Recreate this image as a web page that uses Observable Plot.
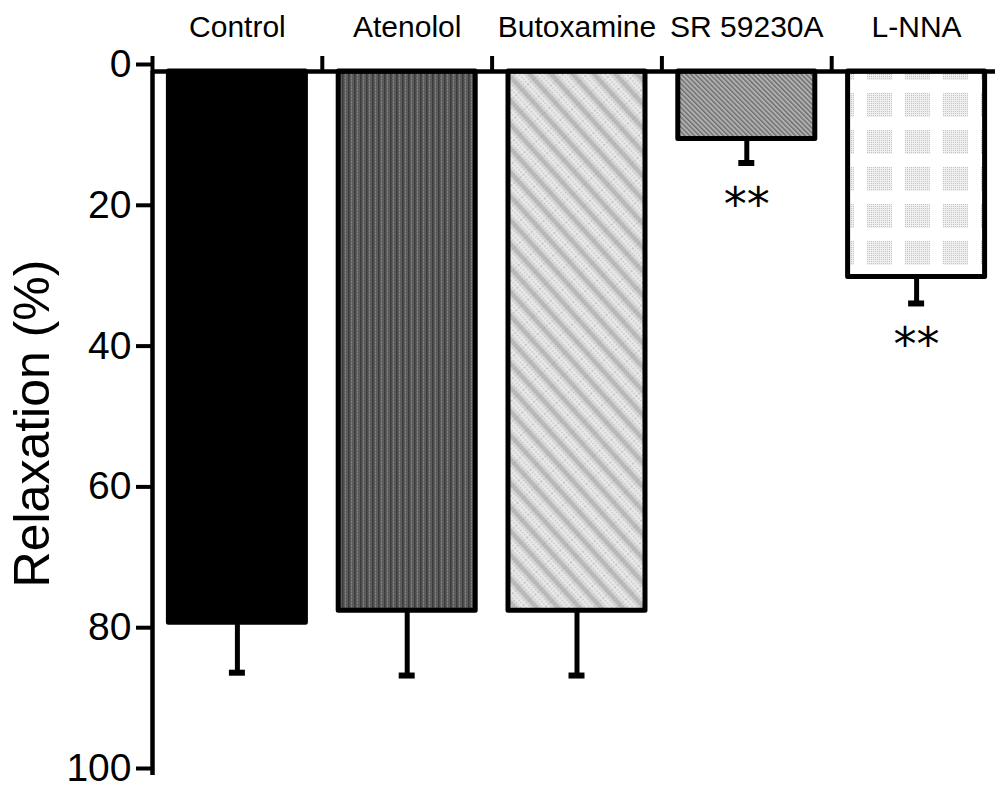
<!DOCTYPE html>
<html><head><meta charset="utf-8">
<script src="https://cdn.jsdelivr.net/npm/d3@7"></script>
<script src="https://cdn.jsdelivr.net/npm/@observablehq/plot@0.6"></script>
<style>html,body{margin:0;padding:0;background:#fff}#chart svg{display:block}</style>
</head><body><div id="chart"></div>
<script>
// ---- data ----
const categories = ["Control", "Atenolol", "Butoxamine", "SR 59230A", "L-NNA"];
const relaxation = [78.3, 76.6, 76.6, 9.6, 29.2];     // mean relaxation (%)
const sem = [7.1, 9.2, 9.2, 3.4, 3.75];               // error bar (+SEM)
const significance = ["", "", "", "**", "**"];
const yTicks = [0, 20, 40, 60, 80, 100];
const yLabel = "Relaxation (%)";

// ---- styles ----
const barFills = ["#000", "url(#pat-aten)", "url(#pat-butox)", "url(#pat-sr)", "url(#pat-lnna)"];

const data = categories.map((c, i) => ({
  category: c, pos: i, mean: relaxation[i], err: relaxation[i] + sem[i], sig: significance[i]
}));
const center = d => d.pos + 0.5;

const chart = Plot.plot({
  width: 995, height: 789,
  marginTop: 71, marginBottom: 14, marginLeft: 152, marginRight: 0,
  x: {type: "linear", domain: [0, categories.length], range: [152, 1001], axis: null},
  y: {domain: [0, 100], reverse: true, axis: null},
  color: {domain: categories, range: barFills},
  style: {fontFamily: "'Liberation Sans', Arial, Helvetica, sans-serif", background: "#fff", color: "#000"},
  marks: [
    Plot.rectY(data, {x1: "pos", x2: d => d.pos + 1, y1: 0, y2: "mean", fill: "category",
      stroke: "#000", strokeWidth: 5, strokeLinejoin: "round", insetLeft: 16.4, insetRight: 16.4}),
    Plot.ruleX(data, {x: center, y1: "mean", y2: "err", stroke: "#000", strokeWidth: 5}),
    Plot.ruleY(data, {y: "err", x1: center, x2: center, insetLeft: -8, insetRight: -8, stroke: "#000", strokeWidth: 6}),
    Plot.text(data, {x: center, y: "err", text: "sig", lineAnchor: "top", dy: 24, fontSize: 46,
      fontFamily: "'DejaVu Sans', sans-serif", fill: "#000"}),
    Plot.ruleY([0], {stroke: "#000", strokeWidth: 4.5}),
    Plot.ruleX([0], {y1: 0, y2: 100, stroke: "#000", strokeWidth: 4.5}),
    Plot.axisY({ticks: yTicks, tickSize: 16, tickPadding: 5, strokeWidth: 4, fontSize: 39, dy: -7, label: null}),
    Plot.axisY({ticks: [], label: yLabel, labelArrow: "none", labelAnchor: "center", labelOffset: 139, fontSize: 50}),
    Plot.axisX({anchor: "top", ticks: d3.range(0, categories.length + 1), tickSize: 16, strokeWidth: 4,
      tickFormat: () => "", label: null}),
    Plot.axisX({anchor: "top", ticks: categories.map((c, i) => i + 0.5), tickSize: 0, tickPadding: 35,
      tickFormat: v => categories[Math.floor(v)], fontSize: 30, label: null})
  ]
});

// pattern definitions for the bar fills
const svg = d3.select(chart.tagName.toLowerCase() === "svg" ? chart : chart.querySelector("svg"));
const defs = svg.insert("defs", ":first-child");

// Atenolol: dark gray with fine vertical lines
const pa = defs.append("pattern").attr("id", "pat-aten").attr("patternUnits", "userSpaceOnUse")
  .attr("width", 6).attr("height", 3);
pa.append("rect").attr("width", 6).attr("height", 3).attr("fill", "#5e5e5e");
pa.append("rect").attr("x", 0).attr("width", 1.5).attr("height", 3).attr("fill", "#383838");
pa.append("rect").attr("x", 3).attr("width", 1).attr("height", 3).attr("fill", "#7c7c7c");
pa.append("rect").attr("x", 0).attr("y", 1).attr("width", 6).attr("height", 0.8).attr("fill", "#505050").attr("opacity", 0.5);

// fine dot texture
const pf = defs.append("pattern").attr("id", "pat-fine").attr("patternUnits", "userSpaceOnUse")
  .attr("width", 3).attr("height", 3);
pf.append("rect").attr("width", 1.2).attr("height", 1.2).attr("fill", "#808080");

// Butoxamine: light gray with soft, broad diagonal bands
const gb = defs.append("linearGradient").attr("id", "grad-butox").attr("x1", 0).attr("x2", 1).attr("y1", 0).attr("y2", 0);
gb.append("stop").attr("offset", "0%").attr("stop-color", "#ececec");
gb.append("stop").attr("offset", "20%").attr("stop-color", "#e6e6e6");
gb.append("stop").attr("offset", "50%").attr("stop-color", "#b4b4b4");
gb.append("stop").attr("offset", "80%").attr("stop-color", "#e6e6e6");
gb.append("stop").attr("offset", "100%").attr("stop-color", "#ececec");
const pb = defs.append("pattern").attr("id", "pat-butox").attr("patternUnits", "userSpaceOnUse")
  .attr("width", 16).attr("height", 16).attr("patternTransform", "rotate(-42)");
pb.append("rect").attr("width", 16).attr("height", 16).attr("fill", "url(#grad-butox)");
pb.append("rect").attr("width", 16).attr("height", 16).attr("fill", "url(#pat-fine)").attr("opacity", 0.35);

// SR 59230A: medium gray fine diagonal hatch
const ps = defs.append("pattern").attr("id", "pat-sr").attr("patternUnits", "userSpaceOnUse")
  .attr("width", 3.4).attr("height", 3.4).attr("patternTransform", "rotate(-45)");
ps.append("rect").attr("width", 3.4).attr("height", 3.4).attr("fill", "#b0b0b0");
ps.append("rect").attr("width", 1.4).attr("height", 3.4).attr("fill", "#6e6e6e");

// L-NNA: white with a grid of faint dotted squares
const pd = defs.append("pattern").attr("id", "pat-dots").attr("patternUnits", "userSpaceOnUse")
  .attr("width", 2).attr("height", 2);
pd.append("rect").attr("width", 2).attr("height", 2).attr("fill", "#f0f0f0");
pd.append("rect").attr("width", 1).attr("height", 1).attr("fill", "#c4c4c4");
const pl = defs.append("pattern").attr("id", "pat-lnna").attr("patternUnits", "userSpaceOnUse")
  .attr("x", 31).attr("y", 19).attr("width", 38).attr("height", 37);
pl.append("rect").attr("width", 38).attr("height", 37).attr("fill", "#fff");
pl.append("rect").attr("width", 25).attr("height", 24).attr("fill", "url(#pat-dots)");

document.getElementById("chart").appendChild(chart);
</script>
</body></html>
